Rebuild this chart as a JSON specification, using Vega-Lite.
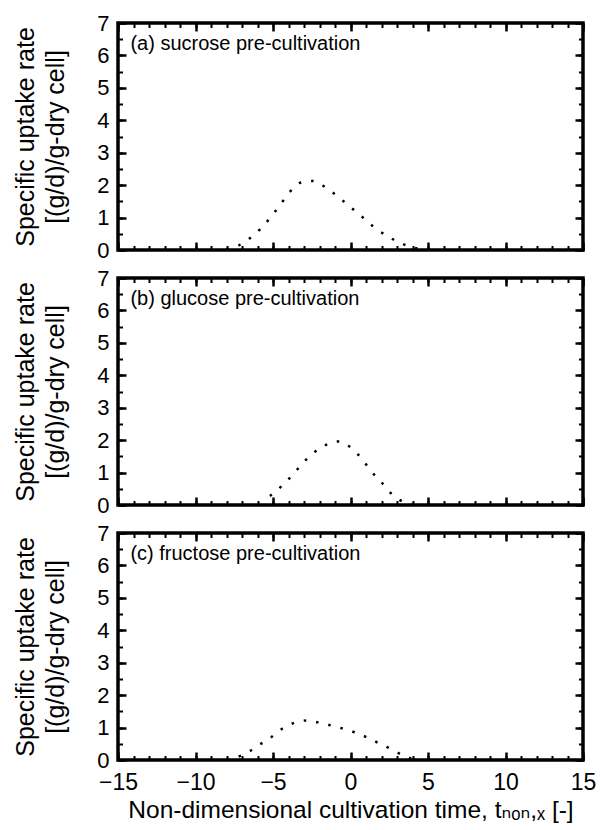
{
  "$schema": "https://vega.github.io/schema/vega-lite/v6.json",
  "padding": {"left": 12, "top": 10, "right": 5, "bottom": 5},
  "background": "white",
  "spacing": 28,
  "bounds": "flush",
  "config": {
    "view": {"stroke": "black", "strokeWidth": 3.5},
    "axis": {
      "domain": false, "grid": false, "ticks": true, "tickColor": "black", "tickWidth": 2.5, "tickOpacity": 1,
      "labelColor": "black", "titleColor": "black",
      "labelFont": "Liberation Sans, Arial, sans-serif", "titleFont": "Liberation Sans, DejaVu Sans, sans-serif",
      "titleFontWeight": "normal", "labelFontSize": 22, "titleFontSize": 24, "labelFlush": false
    },
    "text": {"font": "Liberation Sans, Arial, sans-serif", "color": "black"}
  },
  "vconcat": [
    {
      "width": 465, "height": 227,
      "data": {"values": [
        {"t": -8.0, "rate": 0.02}, {"t": -7.3, "rate": 0.12}, {"t": -6.5, "rate": 0.36}, {"t": -5.8, "rate": 0.66},
        {"t": -5.1, "rate": 1.04}, {"t": -4.5, "rate": 1.42}, {"t": -3.9, "rate": 1.8}, {"t": -3.2, "rate": 2.08},
        {"t": -2.5, "rate": 2.13}, {"t": -1.6, "rate": 1.93}, {"t": -0.8, "rate": 1.64}, {"t": 0.0, "rate": 1.32},
        {"t": 0.76, "rate": 1.02}, {"t": 1.5, "rate": 0.71}, {"t": 2.3, "rate": 0.45}, {"t": 3.1, "rate": 0.24},
        {"t": 3.9, "rate": 0.1}, {"t": 4.6, "rate": 0.02}
      ]},
      "layer": [
        {
          "mark": {"type": "line", "interpolate": "monotone", "color": "black", "strokeWidth": 2.5, "strokeDash": [2.5, 10], "clip": true},
          "encoding": {
            "x": {"field": "t", "type": "quantitative", "scale": {"domain": [-15, 15], "nice": false, "zero": false},
                  "axis": {"orient": "bottom", "values": [-15, -10, -5, 0, 5, 10, 15], "ticks": false, "labels": false, "title": null}},
            "y": {"field": "rate", "type": "quantitative", "scale": {"domain": [0, 7], "nice": false},
                  "axis": {"orient": "left", "values": [0, 1, 2, 3, 4, 5, 6, 7], "ticks": false, "labelPadding": 9,
                           "title": ["Specific uptake rate", "[(g/d)/g-dry cell]"], "titleFontSize": 25, "titleLineHeight": 30, "titlePadding": 28}}
          }
        },
        {
          "mark": {"type": "point", "opacity": 0},
          "encoding": {
            "x": {"field": "t", "type": "quantitative", "axis": {"orient": "bottom", "offset": -8, "tickSize": 8, "values": [-15, -10, -5, 0, 5, 10, 15], "labels": false, "title": null}},
            "y": {"field": "rate", "type": "quantitative", "axis": {"orient": "left", "offset": -8, "tickSize": 8, "values": [0, 1, 2, 3, 4, 5, 6, 7], "labels": false, "title": null}}
          }
        },
        {
          "mark": {"type": "point", "opacity": 0},
          "encoding": {
            "x": {"field": "t", "type": "quantitative", "axis": {"orient": "bottom", "offset": -4.5, "tickSize": 4.5, "tickWidth": 2, "values": [-15,-14,-13,-12,-11,-10,-9,-8,-7,-6,-5,-4,-3,-2,-1,0,1,2,3,4,5,6,7,8,9,10,11,12,13,14,15], "labels": false, "title": null}},
            "y": {"field": "rate", "type": "quantitative", "axis": {"orient": "left", "offset": -4.5, "tickSize": 4.5, "tickWidth": 2, "values": [0,0.5,1,1.5,2,2.5,3,3.5,4,4.5,5,5.5,6,6.5,7], "labels": false, "title": null}}
          }
        },
        {
          "mark": {"type": "point", "opacity": 0},
          "encoding": {
            "x": {"field": "t", "type": "quantitative", "axis": {"orient": "top", "offset": -8, "tickSize": 8, "values": [-15, -10, -5, 0, 5, 10, 15], "labels": false, "title": null}},
            "y": {"field": "rate", "type": "quantitative", "axis": {"orient": "right", "offset": -8, "tickSize": 8, "values": [0, 1, 2, 3, 4, 5, 6, 7], "labels": false, "title": null}}
          }
        },
        {
          "mark": {"type": "point", "opacity": 0},
          "encoding": {
            "x": {"field": "t", "type": "quantitative", "axis": {"orient": "top", "offset": -4.5, "tickSize": 4.5, "tickWidth": 2, "values": [-15,-14,-13,-12,-11,-10,-9,-8,-7,-6,-5,-4,-3,-2,-1,0,1,2,3,4,5,6,7,8,9,10,11,12,13,14,15], "labels": false, "title": null}},
            "y": {"field": "rate", "type": "quantitative", "axis": {"orient": "right", "offset": -4.5, "tickSize": 4.5, "tickWidth": 2, "values": [0,0.5,1,1.5,2,2.5,3,3.5,4,4.5,5,5.5,6,6.5,7], "labels": false, "title": null}}
          }
        },
        {
          "data": {"values": [{"label": "(a) sucrose pre-cultivation", "lx": -14.2, "ly": 6.35}]},
          "mark": {"type": "text", "align": "left", "baseline": "middle", "fontSize": 20},
          "encoding": {
            "x": {"field": "lx", "type": "quantitative", "axis": null},
            "y": {"field": "ly", "type": "quantitative", "axis": null},
            "text": {"field": "label"}
          }
        }
      ],
      "resolve": {"axis": {"x": "independent", "y": "independent"}}
    },
    {
      "width": 465, "height": 227,
      "data": {"values": [
        {"t": -5.2, "rate": 0.28}, {"t": -4.4, "rate": 0.6}, {"t": -3.7, "rate": 0.95}, {"t": -3.0, "rate": 1.33},
        {"t": -2.25, "rate": 1.66}, {"t": -1.5, "rate": 1.87}, {"t": -0.75, "rate": 1.96}, {"t": 0.0, "rate": 1.78},
        {"t": 0.76, "rate": 1.41}, {"t": 1.3, "rate": 1.06}, {"t": 2.0, "rate": 0.7}, {"t": 2.7, "rate": 0.32},
        {"t": 3.4, "rate": 0.1}, {"t": 4.0, "rate": 0.02}
      ]},
      "layer": [
        {
          "mark": {"type": "line", "interpolate": "monotone", "color": "black", "strokeWidth": 2.5, "strokeDash": [2.5, 10], "clip": true},
          "encoding": {
            "x": {"field": "t", "type": "quantitative", "scale": {"domain": [-15, 15], "nice": false, "zero": false},
                  "axis": {"orient": "bottom", "values": [-15, -10, -5, 0, 5, 10, 15], "ticks": false, "labels": false, "title": null}},
            "y": {"field": "rate", "type": "quantitative", "scale": {"domain": [0, 7], "nice": false},
                  "axis": {"orient": "left", "values": [0, 1, 2, 3, 4, 5, 6, 7], "ticks": false, "labelPadding": 9,
                           "title": ["Specific uptake rate", "[(g/d)/g-dry cell]"], "titleFontSize": 25, "titleLineHeight": 30, "titlePadding": 28}}
          }
        },
        {
          "mark": {"type": "point", "opacity": 0},
          "encoding": {
            "x": {"field": "t", "type": "quantitative", "axis": {"orient": "bottom", "offset": -8, "tickSize": 8, "values": [-15, -10, -5, 0, 5, 10, 15], "labels": false, "title": null}},
            "y": {"field": "rate", "type": "quantitative", "axis": {"orient": "left", "offset": -8, "tickSize": 8, "values": [0, 1, 2, 3, 4, 5, 6, 7], "labels": false, "title": null}}
          }
        },
        {
          "mark": {"type": "point", "opacity": 0},
          "encoding": {
            "x": {"field": "t", "type": "quantitative", "axis": {"orient": "bottom", "offset": -4.5, "tickSize": 4.5, "tickWidth": 2, "values": [-15,-14,-13,-12,-11,-10,-9,-8,-7,-6,-5,-4,-3,-2,-1,0,1,2,3,4,5,6,7,8,9,10,11,12,13,14,15], "labels": false, "title": null}},
            "y": {"field": "rate", "type": "quantitative", "axis": {"orient": "left", "offset": -4.5, "tickSize": 4.5, "tickWidth": 2, "values": [0,0.5,1,1.5,2,2.5,3,3.5,4,4.5,5,5.5,6,6.5,7], "labels": false, "title": null}}
          }
        },
        {
          "mark": {"type": "point", "opacity": 0},
          "encoding": {
            "x": {"field": "t", "type": "quantitative", "axis": {"orient": "top", "offset": -8, "tickSize": 8, "values": [-15, -10, -5, 0, 5, 10, 15], "labels": false, "title": null}},
            "y": {"field": "rate", "type": "quantitative", "axis": {"orient": "right", "offset": -8, "tickSize": 8, "values": [0, 1, 2, 3, 4, 5, 6, 7], "labels": false, "title": null}}
          }
        },
        {
          "mark": {"type": "point", "opacity": 0},
          "encoding": {
            "x": {"field": "t", "type": "quantitative", "axis": {"orient": "top", "offset": -4.5, "tickSize": 4.5, "tickWidth": 2, "values": [-15,-14,-13,-12,-11,-10,-9,-8,-7,-6,-5,-4,-3,-2,-1,0,1,2,3,4,5,6,7,8,9,10,11,12,13,14,15], "labels": false, "title": null}},
            "y": {"field": "rate", "type": "quantitative", "axis": {"orient": "right", "offset": -4.5, "tickSize": 4.5, "tickWidth": 2, "values": [0,0.5,1,1.5,2,2.5,3,3.5,4,4.5,5,5.5,6,6.5,7], "labels": false, "title": null}}
          }
        },
        {
          "data": {"values": [{"label": "(b) glucose pre-cultivation", "lx": -14.2, "ly": 6.35}]},
          "mark": {"type": "text", "align": "left", "baseline": "middle", "fontSize": 20},
          "encoding": {
            "x": {"field": "lx", "type": "quantitative", "axis": null},
            "y": {"field": "ly", "type": "quantitative", "axis": null},
            "text": {"field": "label"}
          }
        }
      ],
      "resolve": {"axis": {"x": "independent", "y": "independent"}}
    },
    {
      "width": 465, "height": 227,
      "data": {"values": [
        {"t": -8.0, "rate": 0.02}, {"t": -7.5, "rate": 0.07}, {"t": -6.75, "rate": 0.2}, {"t": -5.95, "rate": 0.45},
        {"t": -5.1, "rate": 0.71}, {"t": -4.3, "rate": 1.0}, {"t": -3.6, "rate": 1.15}, {"t": -2.8, "rate": 1.22},
        {"t": -2.1, "rate": 1.16}, {"t": -1.3, "rate": 1.07}, {"t": -0.5, "rate": 0.97}, {"t": 0.3, "rate": 0.85},
        {"t": 1.1, "rate": 0.69}, {"t": 1.9, "rate": 0.5}, {"t": 2.7, "rate": 0.32}, {"t": 3.4, "rate": 0.14},
        {"t": 4.0, "rate": 0.03}
      ]},
      "layer": [
        {
          "mark": {"type": "line", "interpolate": "monotone", "color": "black", "strokeWidth": 2.5, "strokeDash": [2.5, 10], "clip": true},
          "encoding": {
            "x": {"field": "t", "type": "quantitative", "scale": {"domain": [-15, 15], "nice": false, "zero": false},
                  "axis": {"orient": "bottom", "values": [-15, -10, -5, 0, 5, 10, 15], "ticks": false, "labelPadding": 11, "labelFontSize": 23,
                           "title": "Non-dimensional cultivation time, tₙₒₙ,ₓ [-]", "titleFontSize": 24.5, "titlePadding": 4}},
            "y": {"field": "rate", "type": "quantitative", "scale": {"domain": [0, 7], "nice": false},
                  "axis": {"orient": "left", "values": [0, 1, 2, 3, 4, 5, 6, 7], "ticks": false, "labelPadding": 9,
                           "title": ["Specific uptake rate", "[(g/d)/g-dry cell]"], "titleFontSize": 25, "titleLineHeight": 30, "titlePadding": 28}}
          }
        },
        {
          "mark": {"type": "point", "opacity": 0},
          "encoding": {
            "x": {"field": "t", "type": "quantitative", "axis": {"orient": "bottom", "offset": -8, "tickSize": 8, "values": [-15, -10, -5, 0, 5, 10, 15], "labels": false, "title": null}},
            "y": {"field": "rate", "type": "quantitative", "axis": {"orient": "left", "offset": -8, "tickSize": 8, "values": [0, 1, 2, 3, 4, 5, 6, 7], "labels": false, "title": null}}
          }
        },
        {
          "mark": {"type": "point", "opacity": 0},
          "encoding": {
            "x": {"field": "t", "type": "quantitative", "axis": {"orient": "bottom", "offset": -4.5, "tickSize": 4.5, "tickWidth": 2, "values": [-15,-14,-13,-12,-11,-10,-9,-8,-7,-6,-5,-4,-3,-2,-1,0,1,2,3,4,5,6,7,8,9,10,11,12,13,14,15], "labels": false, "title": null}},
            "y": {"field": "rate", "type": "quantitative", "axis": {"orient": "left", "offset": -4.5, "tickSize": 4.5, "tickWidth": 2, "values": [0,0.5,1,1.5,2,2.5,3,3.5,4,4.5,5,5.5,6,6.5,7], "labels": false, "title": null}}
          }
        },
        {
          "mark": {"type": "point", "opacity": 0},
          "encoding": {
            "x": {"field": "t", "type": "quantitative", "axis": {"orient": "top", "offset": -8, "tickSize": 8, "values": [-15, -10, -5, 0, 5, 10, 15], "labels": false, "title": null}},
            "y": {"field": "rate", "type": "quantitative", "axis": {"orient": "right", "offset": -8, "tickSize": 8, "values": [0, 1, 2, 3, 4, 5, 6, 7], "labels": false, "title": null}}
          }
        },
        {
          "mark": {"type": "point", "opacity": 0},
          "encoding": {
            "x": {"field": "t", "type": "quantitative", "axis": {"orient": "top", "offset": -4.5, "tickSize": 4.5, "tickWidth": 2, "values": [-15,-14,-13,-12,-11,-10,-9,-8,-7,-6,-5,-4,-3,-2,-1,0,1,2,3,4,5,6,7,8,9,10,11,12,13,14,15], "labels": false, "title": null}},
            "y": {"field": "rate", "type": "quantitative", "axis": {"orient": "right", "offset": -4.5, "tickSize": 4.5, "tickWidth": 2, "values": [0,0.5,1,1.5,2,2.5,3,3.5,4,4.5,5,5.5,6,6.5,7], "labels": false, "title": null}}
          }
        },
        {
          "data": {"values": [{"label": "(c) fructose pre-cultivation", "lx": -14.2, "ly": 6.35}]},
          "mark": {"type": "text", "align": "left", "baseline": "middle", "fontSize": 20},
          "encoding": {
            "x": {"field": "lx", "type": "quantitative", "axis": null},
            "y": {"field": "ly", "type": "quantitative", "axis": null},
            "text": {"field": "label"}
          }
        }
      ],
      "resolve": {"axis": {"x": "independent", "y": "independent"}}
    }
  ]
}
